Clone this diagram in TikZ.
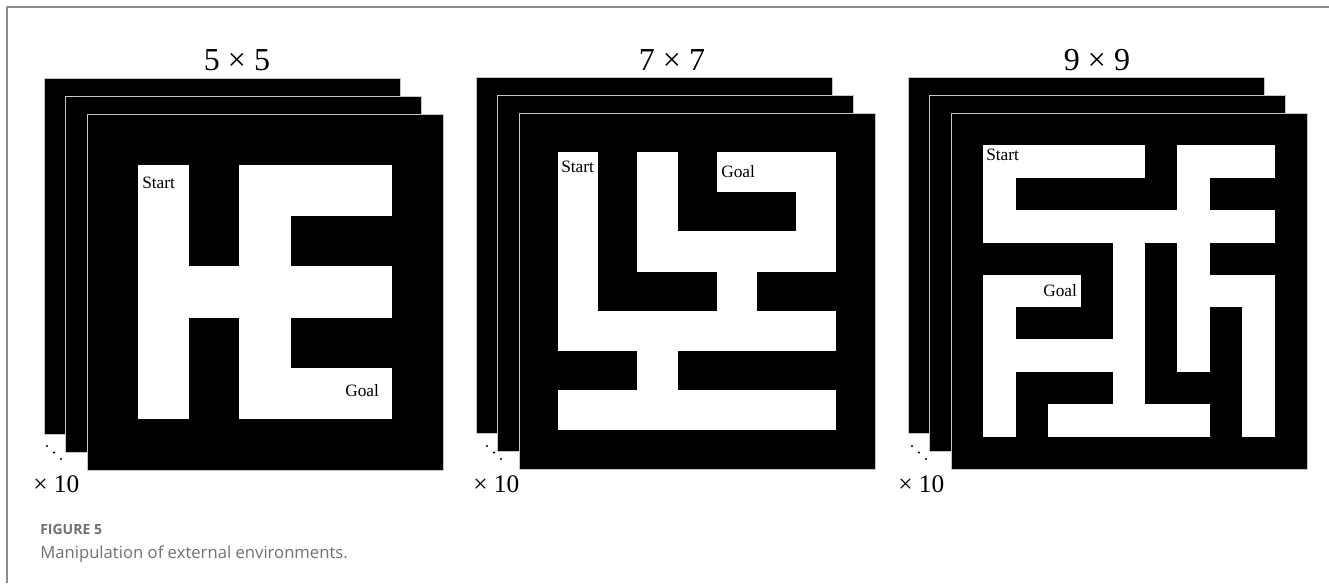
\documentclass[tikz,border=0pt]{standalone}
\usepackage{fontspec}
\setmainfont{Liberation Serif}
\newfontfamily\capfont{Open Sans}
\usepackage{tikz}
\definecolor{frameGray}{RGB}{140,140,140}
\definecolor{capGray}{RGB}{112,112,112}
\tikzset{every path/.style={line join=round}}

\begin{document}
\begin{tikzpicture}[
    x=0.75pt, y=-0.75pt,
    board/.style={
        fill=black,
        draw=gray!45,
        line width=0.5pt
    },
    free/.style={
        fill=white
    },
    title/.style={
        font=\fontsize{24}{24}\selectfont,
        inner sep=0pt,
        anchor=base
    },
    tag/.style={
        font=\fontsize{13}{13}\selectfont,
        inner sep=0pt,
        anchor=base west
    },
    count/.style={
        font=\fontsize{19}{19}\selectfont,
        inner sep=0pt,
        anchor=base west
    },
    caption/.style={
        text=capGray,
        inner sep=0pt,
        anchor=base west
    }
]

\useasboundingbox (0,0) rectangle (1329,583);
\draw[frameGray, line width=1.2pt] (7,583) -- (7,7) -- (1329,7);

% 5 x 5 maze
\draw[board] (44,78) rectangle ++(356,356);
\draw[board] (65.5,96.5) rectangle ++(356,356);
\draw[board] (87,114) rectangle ++(356,356);
\begin{scope}[shift={(137.86,164.86)}]
\foreach \ro/\cols in {0/{0,2,3,4}, 1/{0,2}, 2/{0,1,2,3,4}, 3/{0,2}, 4/{0,2,3,4}}
    \foreach \cl in \cols
        \fill[free] (\cl*50.86-0.3,\ro*50.86-0.3) rectangle ++(51.46,51.46);
\end{scope}

% 7 x 7 maze
\draw[board] (476,77) rectangle ++(356,356);
\draw[board] (497.5,95) rectangle ++(356,356);
\draw[board] (519,113) rectangle ++(356,356);
\begin{scope}[shift={(558.56,152.56)}]
\foreach \ro/\cols in {0/{0,2,4,5,6}, 1/{0,2,6}, 2/{0,2,3,4,5,6}, 3/{0,4},
                       4/{0,1,2,3,4,5,6}, 5/{2}, 6/{0,1,2,3,4,5,6}}
    \foreach \cl in \cols
        \fill[free] (\cl*39.56-0.3,\ro*39.56-0.3) rectangle ++(40.16,40.16);
\end{scope}

% 9 x 9 maze
\draw[board] (908,77) rectangle ++(356,356);
\draw[board] (929.5,95) rectangle ++(356,356);
\draw[board] (951,113) rectangle ++(356,356);
\begin{scope}[shift={(983.36,145.36)}]
\foreach \ro/\cols in {0/{0,1,2,3,4,6,7,8}, 1/{0,6}, 2/{0,1,2,3,4,5,6,7,8},
                       3/{4,6}, 4/{0,1,2,4,6,7,8}, 5/{0,4,6,8},
                       6/{0,1,2,3,4,6,8}, 7/{0,4,8}, 8/{0,2,3,4,5,6,8}}
    \foreach \cl in \cols
        \fill[free] (\cl*32.36-0.3,\ro*32.36-0.3) rectangle ++(32.96,32.96);
\end{scope}

% titles
\node[title] (t5) at (237,70) {5 × 5};
\node[title] (t7) at (672,70) {7 × 7};
\node[title] (t9) at (1097,70) {9 × 9};

% start and goal
\node[tag] (s5) at (142,188) {Start};
\node[tag] (g5) at (345,396) {Goal};
\node[tag] (s7) at (561,172) {Start};
\node[tag] (g7) at (721,177) {Goal};
\node[tag] (s9) at (986,160) {Start};
\node[tag] (g9) at (1043,296) {Goal};

% stack counts
\foreach \px in {47,487,912}
    \foreach \k in {0,1,2}
        \fill (\px+7*\k,446+6.5*\k) circle (1.1);
\node[count] (n5) at (33,492) {× 10};
\node[count] (n7) at (473,492) {× 10};
\node[count] (n9) at (898,492) {× 10};

% caption
\node[caption, font=\capfont\bfseries\fontsize{10.5}{10.5}\selectfont] (fig) at (40,534) {FIGURE 5};
\node[caption, font=\capfont\fontsize{12.5}{12.5}\selectfont] (cap) at (40,558) {Manipulation of external environments.};

\end{tikzpicture}
\end{document}
